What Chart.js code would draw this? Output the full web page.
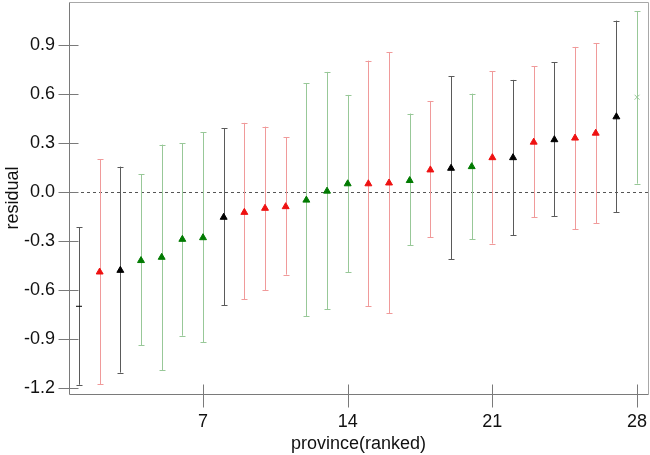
<!DOCTYPE html>
<html>
<head>
<meta charset="utf-8">
<script src="https://cdn.jsdelivr.net/npm/chart.js@4.4.1/dist/chart.umd.min.js"></script>
<style>
  html, body { margin: 0; padding: 0; background: #fff; }
  #wrap { width: 650px; height: 455px; }
</style>
</head>
<body>
<div id="wrap"><canvas id="chart" width="650" height="455"></canvas></div>
<script>
// province rank 1..28, point estimate with lower/upper interval
const provinces = Array.from({ length: 28 }, (_, i) => i + 1);
const groups = ["k", "r", "k", "g", "g", "g", "g", "k", "r", "r", "r", "g", "g", "g",
  "r", "r", "g", "r", "k", "g", "r", "k", "r", "k", "r", "r", "k", "g"];
const estimate = [-0.70, -0.49, -0.48, -0.42, -0.40, -0.29, -0.28, -0.155, -0.125, -0.10,
  -0.09, -0.05, 0.005, 0.05, 0.05, 0.055, 0.07, 0.135, 0.145, 0.155,
  0.21, 0.21, 0.305, 0.32, 0.33, 0.36, 0.46, 0.58];
const lower = [-1.18, -1.176, -1.106, -0.94, -1.09, -0.88, -0.92, -0.694, -0.657, -0.60,
  -0.506, -0.76, -0.718, -0.49, -0.698, -0.743, -0.327, -0.278, -0.412, -0.29,
  -0.316, -0.265, -0.155, -0.147, -0.228, -0.192, -0.124, 0.051];
const upper = [-0.216, 0.20, 0.155, 0.11, 0.29, 0.298, 0.367, 0.39, 0.423, 0.40,
  0.335, 0.666, 0.735, 0.594, 0.804, 0.857, 0.48, 0.557, 0.708, 0.602,
  0.739, 0.686, 0.77, 0.794, 0.888, 0.912, 1.049, 1.106];
const xTicks = [7, 14, 21, 28];
const yTicks = [-1.2, -0.9, -0.6, -0.3, 0.0, 0.3, 0.6, 0.9];

const markColor = { r: "#ee1111", g: "#007a00", k: "#000000" };
const barColor = { r: "#f09a9a", g: "#98c898", k: "#5a5a5a" };
const FONT = "'Liberation Sans', Arial, sans-serif";

// marker shape: plain dash for the first, a cross for the last, triangles otherwise
const styles = provinces.map((p) => (p === 1 ? "line" : p === 28 ? "crossRot" : "triangle"));
const radii = provinces.map((p) => (p === 1 ? 3 : p === 28 ? 3.5 : 4));
const fills = groups.map((g, i) => (i === 27 ? barColor.g : markColor[g]));

const crisp = (v) => Math.round(v) + 0.5;

// pin the plot box: no extra room for half-labels at the ends of the axes
function pinScale(size) {
  return (s) => {
    if (s.isHorizontal()) s.height = size; else s.width = size;
    s.paddingTop = 0; s.paddingBottom = 0; s.paddingLeft = 0; s.paddingRight = 0;
  };
}

const errorBars = {
  id: "errorBars",
  beforeDatasetsDraw(chart) {
    const { ctx, chartArea: a, scales: { x, y } } = chart;
    ctx.save();
    // dotted zero line
    ctx.strokeStyle = "#555";
    ctx.lineWidth = 1;
    ctx.setLineDash([3, 3]);
    const y0 = crisp(y.getPixelForValue(0));
    ctx.beginPath();
    ctx.moveTo(a.left, y0);
    ctx.lineTo(a.right, y0);
    ctx.stroke();
    ctx.setLineDash([]);
    provinces.forEach((p, i) => {
      const px = crisp(x.getPixelForValue(p));
      const lo = y.getPixelForValue(lower[i]);
      const hi = y.getPixelForValue(upper[i]);
      ctx.strokeStyle = barColor[groups[i]];
      ctx.beginPath();
      ctx.moveTo(px, hi);
      ctx.lineTo(px, lo);
      ctx.moveTo(px - 3, crisp(hi));
      ctx.lineTo(px + 3, crisp(hi));
      ctx.moveTo(px - 3, crisp(lo));
      ctx.lineTo(px + 3, crisp(lo));
      ctx.stroke();
    });
    ctx.restore();
  },
  afterDraw(chart) {
    const { ctx, chartArea: a, scales: { x, y } } = chart;
    const l = crisp(a.left), r = crisp(a.right), t = crisp(a.top), b = crisp(a.bottom);
    ctx.save();
    ctx.lineWidth = 1;
    ctx.strokeStyle = "#a8a8a8";
    ctx.beginPath();
    ctx.moveTo(l, t); ctx.lineTo(r, t); ctx.lineTo(r, b);
    ctx.stroke();
    ctx.strokeStyle = "#7a7a7a";
    ctx.beginPath();
    ctx.moveTo(l, t); ctx.lineTo(l, b); ctx.lineTo(r, b);
    yTicks.forEach((v) => {
      const py = crisp(y.getPixelForValue(v));
      ctx.moveTo(l - 11, py); ctx.lineTo(l + 9, py);
    });
    xTicks.forEach((v) => {
      const px = crisp(x.getPixelForValue(v));
      ctx.moveTo(px, b - 10); ctx.lineTo(px, b + 13);
    });
    ctx.stroke();
    ctx.restore();
  },
};

new Chart(document.getElementById("chart"), {
  type: "scatter",
  data: {
    datasets: [{
      data: provinces.map((p, i) => ({ x: p, y: estimate[i] })),
      pointStyle: styles,
      pointRadius: radii,
      pointBackgroundColor: fills,
      pointBorderColor: fills,
      pointBorderWidth: 1,
    }],
  },
  options: {
    responsive: false,
    animation: false,
    devicePixelRatio: 1,
    layout: { autoPadding: false, padding: { top: 2, right: 2, left: 0, bottom: 0 } },
    plugins: { legend: { display: false }, tooltip: { enabled: false } },
    scales: {
      x: {
        type: "linear", min: 0.516, max: 28.53,
        afterBuildTicks: (s) => { s.ticks = xTicks.map((v) => ({ value: v })); },
        afterFit: pinScale(61),
        grid: { display: false, drawTicks: false }, border: { display: false },
        ticks: { autoSkip: false, maxRotation: 0, padding: 17, color: "#111", font: { family: FONT, size: 18 } },
        title: { display: true, text: "province(ranked)", color: "#111", padding: { top: 0, bottom: 0 }, font: { family: FONT, size: 18 } },
      },
      y: {
        type: "linear", min: -1.237, max: 1.163,
        afterBuildTicks: (s) => { s.ticks = yTicks.map((v) => ({ value: v })); },
        afterFit: pinScale(69),
        grid: { display: false, drawTicks: false }, border: { display: false },
        ticks: { padding: 14, color: "#111", font: { family: FONT, size: 18 }, callback: (v) => Number(v).toFixed(1) },
        title: { display: true, text: "residual", color: "#111", padding: { top: 2, bottom: 0 }, font: { family: FONT, size: 18 } },
      },
    },
  },
  plugins: [errorBars],
});
</script>
</body>
</html>
